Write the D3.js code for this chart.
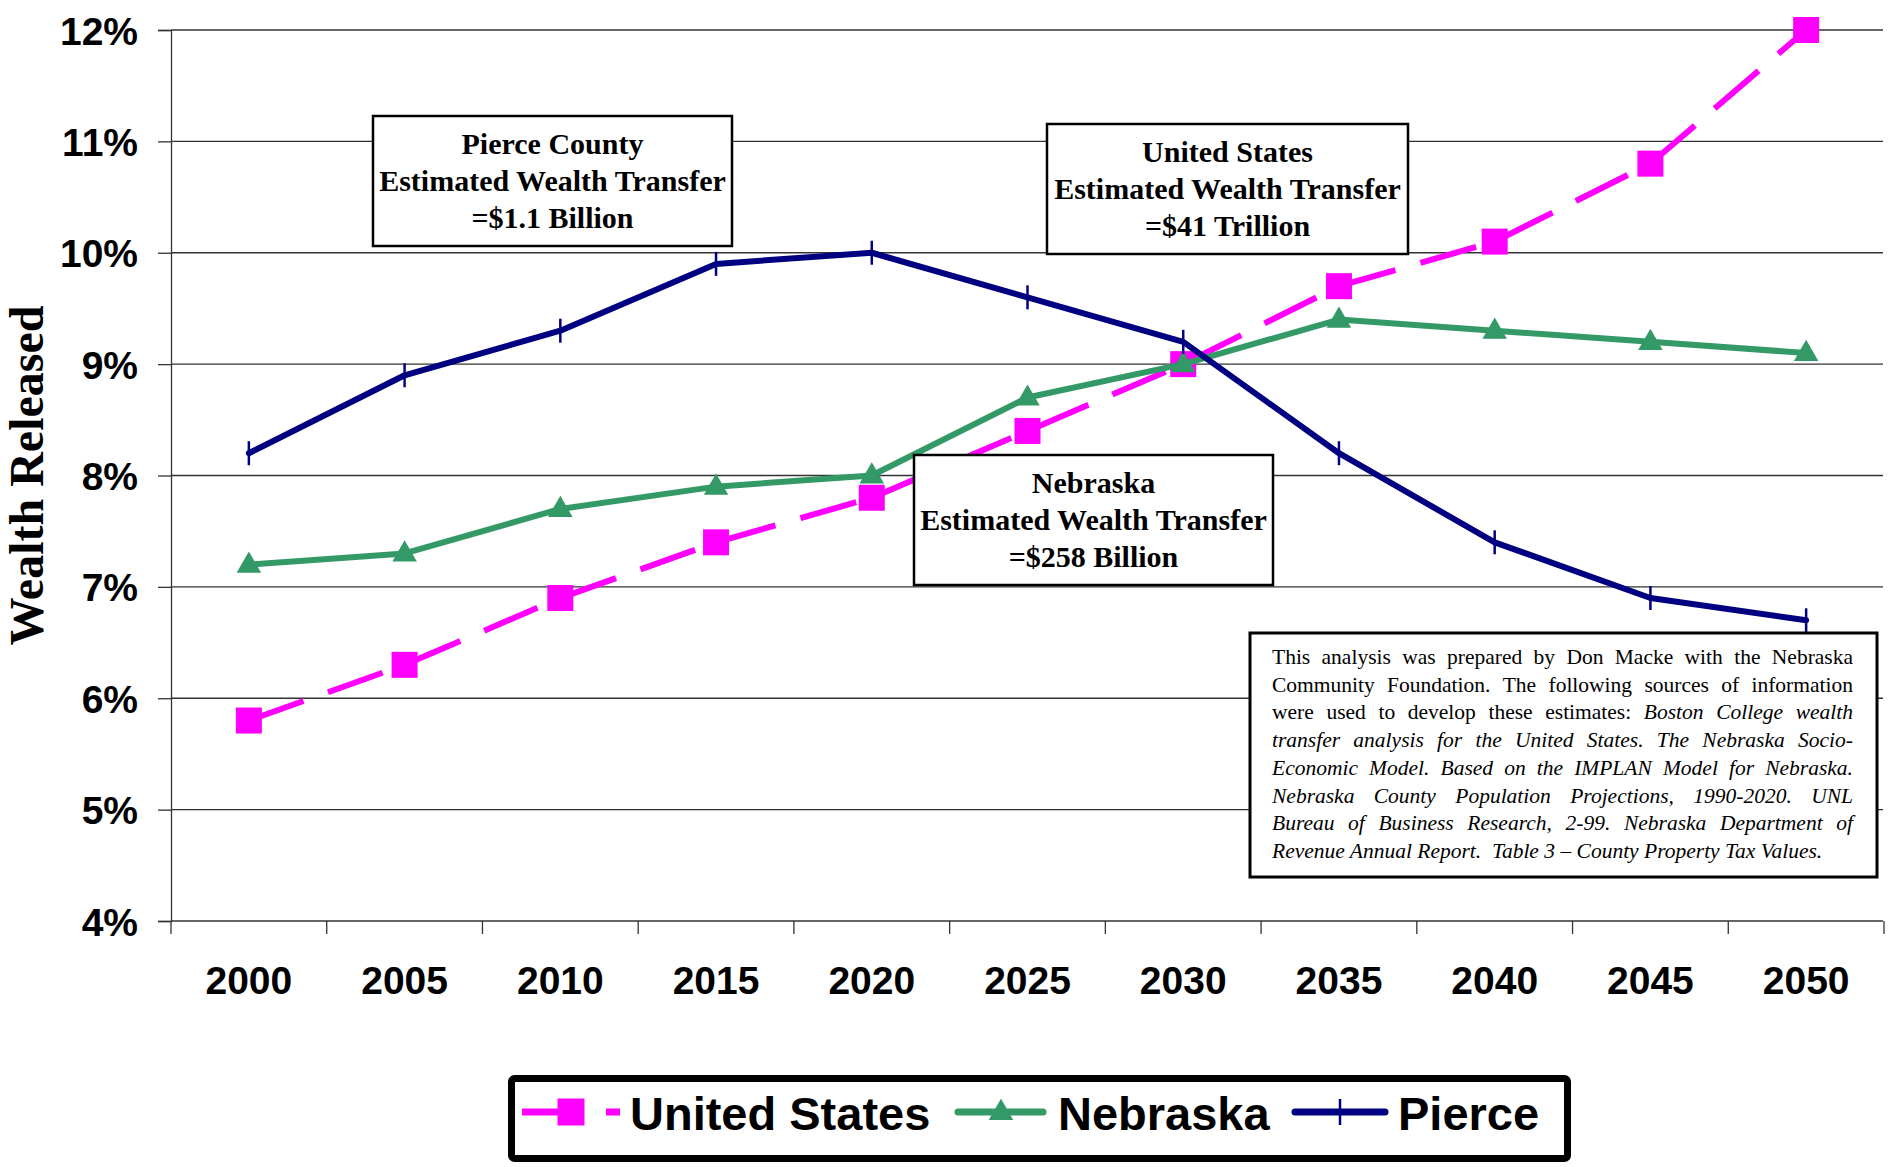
<!DOCTYPE html>
<html>
<head>
<meta charset="utf-8">
<script src="https://cdn.jsdelivr.net/npm/d3@7"></script>
<style>
  html, body { margin: 0; padding: 0; background: #fff; }
  svg { display: block; }
</style>
</head>
<body>
<svg id="chart" width="1903" height="1167"></svg>
<script>
// ---- data ----
const years = ["2000","2005","2010","2015","2020","2025","2030","2035","2040","2045","2050"];
const usValues = [5.8, 6.3, 6.9, 7.4, 7.8, 8.4, 9.0, 9.7, 10.1, 10.8, 12.0];
const nebraskaValues = [7.2, 7.3, 7.7, 7.9, 8.0, 8.7, 9.0, 9.4, 9.3, 9.2, 9.1];
const pierceValues = [8.2, 8.9, 9.3, 9.9, 10.0, 9.6, 9.2, 8.2, 7.4, 6.9, 6.7];
const yTicks = [4, 5, 6, 7, 8, 9, 10, 11, 12];
const seriesNames = ["United States", "Nebraska", "Pierce"];
const annotations = [
  { lines: ["Pierce County", "Estimated Wealth Transfer", "=$1.1 Billion"] },
  { lines: ["United States", "Estimated Wealth Transfer", "=$41 Trillion"] },
  { lines: ["Nebraska", "Estimated Wealth Transfer", "=$258 Billion"] }
];
const sourceLines = [
  [["This analysis was prepared by Don Macke with the Nebraska", false]],
  [["Community Foundation.  The following sources of information", false]],
  [["were used to develop these estimates:", false], ["Boston College wealth", true]],
  [["transfer analysis for the United States.  The Nebraska Socio-", true]],
  [["Economic Model.  Based on the IMPLAN Model for Nebraska.", true]],
  [["Nebraska County Population Projections, 1990-2020.  UNL", true]],
  [["Bureau of Business Research, 2-99.  Nebraska Department of", true]],
  [["Revenue Annual Report.  Table 3 \u2013 County Property Tax Values.", true]]
];

(function () {
// ---- layout ----
const SANS = "'Liberation Sans', Arial, sans-serif";
const SERIF = "'Liberation Serif', 'Times New Roman', serif";
const colors = { us: "#FF00FF", ne: "#339966", pi: "#000080" };
const pLeft = 171, pRight = 1884, pTop = 30, pBottom = 921;

const svg = d3.select("#chart");
const x = d3.scaleBand().domain(years).range([pLeft, pRight]).paddingInner(0).paddingOuter(0);
const cx = d => x(d) + x.bandwidth() / 2;
const y = d3.scaleLinear().domain([4, 12]).range([pBottom, pTop]);

// gridlines + y axis
svg.append("g").selectAll("line").data(yTicks).join("line")
  .attr("x1", pLeft).attr("x2", pRight - 1)
  .attr("y1", d => y(d)).attr("y2", d => y(d))
  .attr("stroke", "#333").attr("stroke-width", 1.3);

const yAxis = d3.axisLeft(y).tickValues(yTicks).tickSize(13).tickFormat(d => d + "%");
const yg = svg.append("g").attr("transform", `translate(${pLeft},0)`).call(yAxis);
yg.select(".domain").attr("stroke", "#333").attr("stroke-width", 1.3);
yg.selectAll(".tick line").attr("stroke", "#333").attr("stroke-width", 1.3);
yg.selectAll(".tick text")
  .attr("font-family", SANS).attr("font-weight", "bold").attr("font-size", 39)
  .attr("fill", "#000").attr("x", -33).attr("dy", "0.36em");

// x axis labels and boundary ticks
const xAxis = d3.axisBottom(x).tickSize(0).tickPadding(0);
const xg = svg.append("g").attr("transform", `translate(0,${pBottom})`).call(xAxis);
xg.select(".domain").remove();
xg.selectAll(".tick text")
  .attr("font-family", SANS).attr("font-weight", "bold").attr("font-size", 39)
  .attr("fill", "#000").attr("y", 73).attr("dy", 0);

const boundaries = years.map(d => x(d)).concat([x(years[years.length - 1]) + x.bandwidth()]);
svg.append("g").selectAll("line").data(boundaries).join("line")
  .attr("x1", d => d).attr("x2", d => d)
  .attr("y1", pBottom).attr("y2", pBottom + 13)
  .attr("stroke", "#333").attr("stroke-width", 1.3);

// y axis title
svg.append("text")
  .attr("transform", `translate(43,${(pTop + pBottom) / 2}) rotate(-90)`)
  .attr("text-anchor", "middle")
  .attr("font-family", SERIF).attr("font-weight", "bold").attr("font-size", 48)
  .text("Wealth Released");

// ---- series ----
const line = d3.line().x((d, i) => cx(years[i])).y(d => y(d));

// United States
svg.append("path").datum(usValues).attr("d", line)
  .attr("fill", "none").attr("stroke", colors.us).attr("stroke-width", 6)
  .attr("stroke-dasharray", "58,26").attr("stroke-linejoin", "round");
svg.append("g").selectAll("rect").data(usValues).join("rect")
  .attr("x", (d, i) => cx(years[i]) - 13).attr("y", d => y(d) - 13)
  .attr("width", 26).attr("height", 26).attr("fill", colors.us);

// Nebraska
const tri = d3.symbol().type(d3.symbolTriangle).size(260);
svg.append("path").datum(nebraskaValues).attr("d", line)
  .attr("fill", "none").attr("stroke", colors.ne).attr("stroke-width", 6)
  .attr("stroke-linejoin", "round").attr("stroke-linecap", "round");
svg.append("g").selectAll("path").data(nebraskaValues).join("path")
  .attr("d", tri)
  .attr("transform", (d, i) => `translate(${cx(years[i])},${y(d) + 1})`)
  .attr("fill", colors.ne);

// Pierce
svg.append("path").datum(pierceValues).attr("d", line)
  .attr("fill", "none").attr("stroke", colors.pi).attr("stroke-width", 6)
  .attr("stroke-linejoin", "round").attr("stroke-linecap", "round");
svg.append("g").selectAll("line").data(pierceValues).join("line")
  .attr("x1", (d, i) => cx(years[i])).attr("x2", (d, i) => cx(years[i]))
  .attr("y1", d => y(d) - 12).attr("y2", d => y(d) + 12)
  .attr("stroke", colors.pi).attr("stroke-width", 2.5);

// ---- annotation boxes ----
const boxPos = [
  { x: 373, y: 116, w: 359, h: 130 },
  { x: 1047, y: 124, w: 361, h: 130 },
  { x: 914, y: 455, w: 359, h: 130 }
];
annotations.forEach((a, k) => {
  const b = boxPos[k];
  const g = svg.append("g");
  g.append("rect").attr("x", b.x).attr("y", b.y).attr("width", b.w).attr("height", b.h)
    .attr("fill", "#fff").attr("stroke", "#000").attr("stroke-width", 2.5);
  g.selectAll("text").data(a.lines).join("text")
    .attr("x", b.x + b.w / 2).attr("y", (d, i) => b.y + 38 + i * 37)
    .attr("text-anchor", "middle")
    .attr("font-family", SERIF).attr("font-weight", "bold").attr("font-size", 30)
    .text(d => d);
});

// ---- source box ----
const sb = { x: 1250, y: 633, w: 627, h: 244 };
svg.append("rect").attr("x", sb.x).attr("y", sb.y).attr("width", sb.w).attr("height", sb.h)
  .attr("fill", "#fff").attr("stroke", "#000").attr("stroke-width", 3);
const tx0 = 1272, tx1 = 1853, fs = 21.5;
const sg = svg.append("g");
sourceLines.forEach((segs, li) => {
  const baseY = 664 + li * 27.7;
  const last = li === sourceLines.length - 1;
  if (last) {
    sg.append("text").attr("x", tx0).attr("y", baseY)
      .attr("font-family", SERIF).attr("font-size", fs).attr("font-style", "italic")
      .style("white-space", "pre").text(segs[0][0]);
    return;
  }
  const words = [];
  segs.forEach(([txt, ital]) => {
    txt.split(/\s+/).filter(w => w.length).forEach(w => words.push({ w, ital }));
  });
  const nodes = words.map(o => sg.append("text")
    .attr("y", baseY).attr("font-family", SERIF).attr("font-size", fs)
    .attr("font-style", o.ital ? "italic" : "normal").text(o.w));
  const widths = nodes.map(n => n.node().getComputedTextLength());
  const total = d3.sum(widths);
  const gap = (tx1 - tx0 - total) / (words.length - 1);
  let cur = tx0;
  nodes.forEach((n, i) => { n.attr("x", cur); cur += widths[i] + gap; });
});

// ---- legend ----
const lg = svg.append("g");
lg.append("rect").attr("x", 511.5).attr("y", 1078.5).attr("width", 1056).attr("height", 80)
  .attr("fill", "#fff").attr("stroke", "#000").attr("stroke-width", 7).attr("rx", 3);
const ly = 1112, lfs = 47, lbase = 1130;
// US
lg.append("line").attr("x1", 522).attr("x2", 620).attr("y1", ly).attr("y2", ly)
  .attr("stroke", colors.us).attr("stroke-width", 7).attr("stroke-dasharray", "62,22");
lg.append("rect").attr("x", 571 - 13.5).attr("y", ly - 13.5).attr("width", 27).attr("height", 27)
  .attr("fill", colors.us);
// Nebraska
lg.append("line").attr("x1", 958).attr("x2", 1043).attr("y1", ly).attr("y2", ly)
  .attr("stroke", colors.ne).attr("stroke-width", 7).attr("stroke-linecap", "round");
lg.append("path").attr("d", tri).attr("transform", `translate(1001,${ly + 1})`).attr("fill", colors.ne);
// Pierce
lg.append("line").attr("x1", 1295).attr("x2", 1385).attr("y1", ly).attr("y2", ly)
  .attr("stroke", colors.pi).attr("stroke-width", 7).attr("stroke-linecap", "round");
lg.append("line").attr("x1", 1340).attr("x2", 1340).attr("y1", ly - 13).attr("y2", ly + 13)
  .attr("stroke", colors.pi).attr("stroke-width", 2.5);
const legendTextX = [630, 1058, 1398];
lg.selectAll("text.lab").data(seriesNames).join("text").attr("class", "lab")
  .attr("x", (d, i) => legendTextX[i]).attr("y", lbase)
  .attr("font-family", SANS).attr("font-weight", "bold").attr("font-size", lfs)
  .text(d => d);
})();
</script>
</body>
</html>
